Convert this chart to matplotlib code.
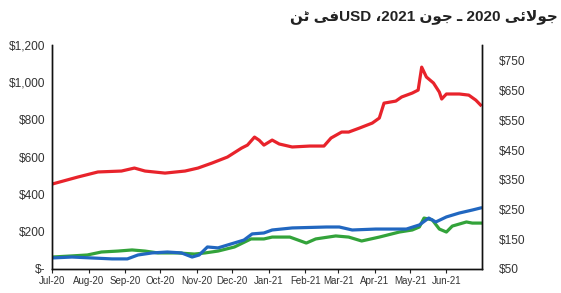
import matplotlib
matplotlib.use("Agg")
import matplotlib.pyplot as plt
import pandas as pd

# ---- data ----
red_dates = ["2020-07-01", "2020-07-23", "2020-08-09", "2020-08-29", "2020-09-09", "2020-09-18",
             "2020-10-05", "2020-10-22", "2020-11-02", "2020-11-14", "2020-11-27", "2020-12-09",
             "2020-12-14", "2020-12-20", "2020-12-24", "2020-12-28", "2021-01-04", "2021-01-10",
             "2021-01-21", "2021-02-05", "2021-02-17", "2021-02-23", "2021-03-04", "2021-03-10",
             "2021-03-19", "2021-03-30", "2021-04-05", "2021-04-09", "2021-04-19", "2021-04-24",
             "2021-05-03", "2021-05-08", "2021-05-11", "2021-05-15", "2021-05-21", "2021-05-26",
             "2021-05-28", "2021-06-01", "2021-06-12", "2021-06-20", "2021-06-26", "2021-06-30"]
red_vals = [455, 493, 520, 525, 541, 525,
            514, 525, 541, 568, 600, 648,
            664, 707, 690, 664, 691, 670,
            654, 659, 659, 702, 734, 734,
            755, 782, 809, 889, 900, 922,
            943, 959, 1082, 1029, 997, 948,
            911, 938, 938, 932, 905, 879]

blue_dates = ["2020-07-01", "2020-07-18", "2020-08-04", "2020-08-21", "2020-09-03", "2020-09-12",
              "2020-09-24", "2020-10-07", "2020-10-19", "2020-10-28", "2020-11-03", "2020-11-10",
              "2020-11-19", "2020-11-30", "2020-12-11", "2020-12-18", "2020-12-28", "2021-01-04",
              "2021-01-21", "2021-02-19", "2021-03-02", "2021-03-13", "2021-04-02", "2021-04-28",
              "2021-05-09", "2021-05-17", "2021-05-23", "2021-06-01", "2021-06-12", "2021-06-23",
              "2021-06-30"]
blue_vals = [59, 64, 59, 54, 54, 75,
             86, 91, 86, 64, 75, 118,
             113, 134, 155, 188, 193, 209,
             220, 225, 225, 209, 214, 214,
             236, 273, 252, 279, 300, 316,
             327]

green_dates = ["2020-07-01", "2020-07-18", "2020-07-31", "2020-08-12", "2020-08-26", "2020-09-07",
               "2020-09-18", "2020-09-29", "2020-10-16", "2020-10-30", "2020-11-08", "2020-11-19",
               "2020-12-03", "2020-12-17", "2020-12-28", "2021-01-04", "2021-01-19", "2021-02-02",
               "2021-02-10", "2021-02-27", "2021-03-10", "2021-03-21", "2021-04-05", "2021-04-22",
               "2021-05-03", "2021-05-09", "2021-05-13", "2021-05-20", "2021-05-26", "2021-06-01",
               "2021-06-06", "2021-06-18", "2021-06-23", "2021-06-30"]
green_vals = [64, 70, 75, 91, 96, 102,
              96, 86, 86, 80, 86, 96,
              118, 161, 161, 171, 171, 139,
              161, 177, 171, 150, 171, 198,
              209, 225, 273, 263, 214, 198,
              230, 252, 246, 246]

left_ticks = [0, 200, 400, 600, 800, 1000, 1200]
left_labels = ["$-", "$200", "$400", "$600", "$800", "$1,000", "$1,200"]
right_ticks = [50, 150, 250, 350, 450, 550, 650, 750]
right_labels = ["$50", "$150", "$250", "$350", "$450", "$550", "$650", "$750"]
month_ticks = pd.date_range("2020-07-01", "2021-06-01", freq="MS")
month_labels = ["Jul-20", "Aug-20", "Sep-20", "Oct-20", "Nov-20", "Dec-20",
                "Jan-21", "Feb-21", "Mar-21", "Apr-21", "May-21", "Jun-21"]

# Urdu title, pre-shaped in visual (left-to-right) order:
# "جولائی 2020 ۔ جون 2021، USDفی ٹن"
title_text = ("\uFEE6\uFB68 \uFEF0\uFED3USD \u060C2021 \uFEE5\uFEEE\uFE9F \u0640 2020 "
              "\uFEF0\uFE8B\uFEFB\uFEEE\uFE9F")

# ---- figure ----
fig = plt.figure(figsize=(5.61, 2.93), dpi=100)
ax = fig.add_axes([0.0927, 0.082, 0.766, 0.764])

lw = 2.3
ax.plot(pd.to_datetime(red_dates), red_vals, color="#e8232b", lw=lw, solid_joinstyle="round")
ax.plot(pd.to_datetime(green_dates), green_vals, color="#33a33a", lw=lw, solid_joinstyle="round")
ax.plot(pd.to_datetime(blue_dates), blue_vals, color="#2167c0", lw=lw, solid_joinstyle="round")

ax.set_xlim(pd.Timestamp("2020-07-01"), pd.Timestamp("2021-07-01"))
ax.set_ylim(0, 1200)

ax.set_xticks(month_ticks)
ax.set_xticklabels(month_labels)
ax.set_yticks(left_ticks)
ax.set_yticklabels(left_labels)

tick_font = ["Liberation Sans", "DejaVu Sans"]
ax.tick_params(axis="x", length=3, width=0.8, color="#222222", pad=2,
               labelsize=7, labelcolor="#333333")
ax.tick_params(axis="y", length=0, pad=5, labelsize=8.6, labelcolor="#333333")
for lab in ax.get_xticklabels() + ax.get_yticklabels():
    lab.set_family(tick_font)

ax2 = ax.twinx()
ax2.set_ylim(50, 803)
ax2.set_yticks(right_ticks)
ax2.set_yticklabels(right_labels)
ax2.tick_params(axis="y", length=0, pad=12, labelsize=8.6, labelcolor="#333333")
for lab in ax2.get_yticklabels():
    lab.set_family(tick_font)

for a in (ax, ax2):
    a.spines["top"].set_visible(False)
    for s in ("left", "right", "bottom"):
        a.spines[s].set_color("#111111")
        a.spines[s].set_linewidth(1.0)

fig.text(0.995, 0.942, title_text, ha="right", va="center", fontsize=11,
         fontweight="bold", color="#222222", family=["Liberation Sans", "DejaVu Sans"])

fig.savefig("out.png", dpi=100)
